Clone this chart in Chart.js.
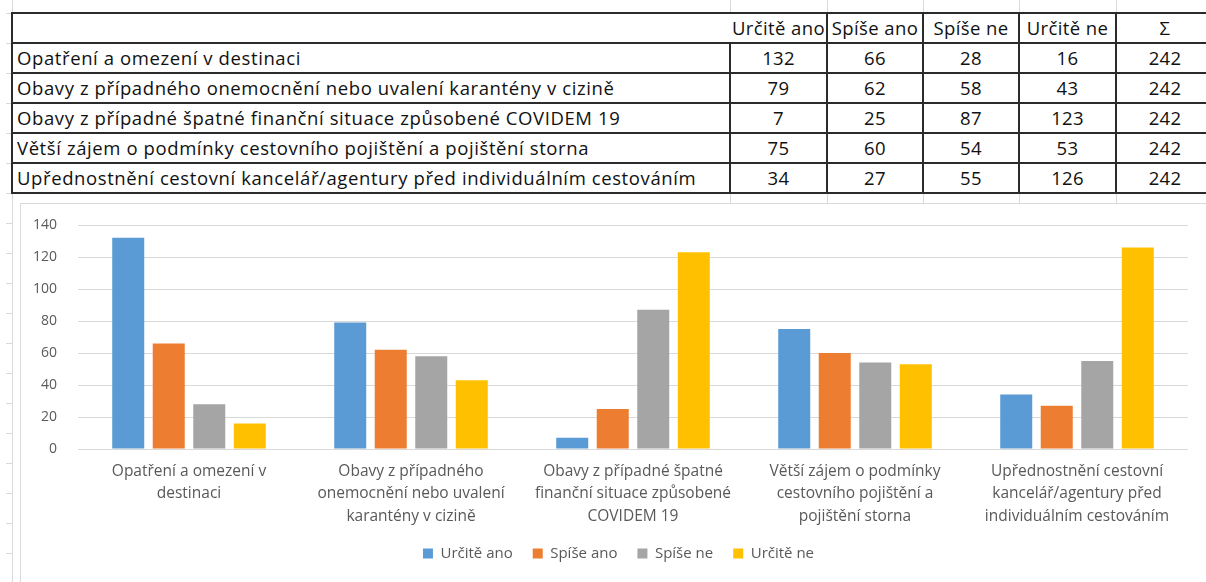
<!DOCTYPE html>
<html>
<head>
<meta charset="utf-8">
<script src="https://cdn.jsdelivr.net/npm/chart.js@4/dist/chart.umd.min.js"></script>
<style>
  html, body { margin:0; padding:0; background:#fff; width:1206px; height:582px; overflow:hidden; position:relative; }
  .gl { position:absolute; background:#d9d9d9; }
  .cell { position:absolute; box-sizing:border-box; font-family:"Open Sans","Lato",sans-serif; font-size:18.5px; letter-spacing:0.6px; color:#111; line-height:30px; white-space:nowrap; }
  .num { letter-spacing:0.3px; }
  .hl { position:absolute; background:#2b2b2b; }
  #chartBox { position:absolute; left:20px; top:203px; width:1196px; height:379px; border-top:1px solid #d9d9d9; border-left:1px solid #d9d9d9; background:#fff; }
</style>
</head>
<body>
<div id="sheet"></div>
<div id="chartBox"><canvas id="c" width="1196" height="378"></canvas></div>
<script>
// ---- data ----
const categories = [
  "Opatření a omezení v destinaci",
  "Obavy z případného onemocnění nebo uvalení karantény v cizině",
  "Obavy z případné špatné finanční situace způsobené COVIDEM 19",
  "Větší zájem o podmínky cestovního pojištění a pojištění storna",
  "Upřednostnění cestovní kancelář/agentury před individuálním cestováním"
];
const categoryLines = [
  ["Opatření a omezení v", "destinaci"],
  ["Obavy z případného", "onemocnění nebo uvalení", "karantény v cizině"],
  ["Obavy z případné špatné", "finanční situace způsobené", "COVIDEM 19"],
  ["Větší zájem o podmínky", "cestovního pojištění a", "pojištění storna"],
  ["Upřednostnění cestovní", "kancelář/agentury před", "individuálním cestováním"]
];
const seriesNames = ["Určitě ano", "Spíše ano", "Spíše ne", "Určitě ne"];
const urciteAno = [132, 79, 7, 75, 34];
const spiseAno  = [66, 62, 25, 60, 27];
const spiseNe   = [28, 58, 87, 54, 55];
const urciteNe  = [16, 43, 123, 53, 126];
const totals    = [242, 242, 242, 242, 242];
const totalHeader = "Σ";
const yTicks = [0, 20, 40, 60, 80, 100, 120, 140];
const colors = ["#5B9BD5", "#ED7D31", "#A5A5A5", "#FFC000"];

// ---- spreadsheet table (layout) ----
const sheet = document.getElementById('sheet');
const colX = [12, 730, 827, 923, 1019, 1116, 1214];
const rowY = [13, 43, 73, 103, 133, 163, 193];
function add(cls, css, text) {
  const d = document.createElement('div');
  d.className = cls;
  Object.assign(d.style, css);
  if (text !== undefined) d.textContent = text;
  sheet.appendChild(d);
  return d;
}
// excel light gridlines
add('gl', {left:'12px', top:'0px', width:'1px', height:'582px'});
for (let y = 13; y < 582; y += 30) add('gl', {left:'6px', top:y+'px', width:'7px', height:'1px'});
for (let i = 1; i < colX.length - 1; i++) {
  add('gl', {left:colX[i]+'px', top:'0px', width:'1px', height:'13px'});
  add('gl', {left:colX[i]+'px', top:'193px', width:'1px', height:'10px'});
}
// header
const header = seriesNames.concat([totalHeader]);
header.forEach((h, i) => {
  add('cell', {left:colX[i+1]+'px', top:rowY[0]+'px', width:(colX[i+2]-colX[i+1])+'px', height:'30px', textAlign:'center', letterSpacing:'0.4px'}, h);
});
const seriesAll = [urciteAno, spiseAno, spiseNe, urciteNe, totals];
categories.forEach((c, r) => {
  add('cell', {left:(colX[0]+5)+'px', top:rowY[r+1]+'px', width:(colX[1]-colX[0]-5)+'px', height:'30px'}, c);
  seriesAll.forEach((s, i) => {
    add('cell num', {left:colX[i+1]+'px', top:rowY[r+1]+'px', width:(colX[i+2]-colX[i+1])+'px', height:'30px', textAlign:'center'}, String(s[r]));
  });
});
// table borders
rowY.forEach(y => add('hl', {left:colX[0]+'px', top:(y-1)+'px', width:(1206-colX[0])+'px', height:'2px'}));
add('hl', {left:(colX[0]-1)+'px', top:(rowY[0]-1)+'px', width:'2px', height:(rowY[6]-rowY[0]+2)+'px'});
add('hl', {left:(colX[1]-1)+'px', top:(rowY[1]-1)+'px', width:'2px', height:(rowY[6]-rowY[1]+2)+'px'});
for (let i = 2; i < colX.length - 1; i++) {
  add('hl', {left:(colX[i]-1)+'px', top:(rowY[0]-1)+'px', width:'2px', height:(rowY[6]-rowY[0]+2)+'px'});
}

// ---- chart ----
const FONT = "'Open Sans','Lato',sans-serif";
const seriesData = [urciteAno, spiseAno, spiseNe, urciteNe];
const legendShift = {
  id: 'legendShift',
  afterLayout(chart) {
    const lg = chart.legend;
    if (lg) { lg.left += 14; lg.right += 14; }
  }
};
new Chart(document.getElementById('c'), {
  type: 'bar',
  data: {
    labels: categoryLines,
    datasets: seriesNames.map((n, i) => ({
      label: n,
      data: seriesData[i],
      backgroundColor: colors[i],
      borderWidth: 0,
      categoryPercentage: 0.73,
      barPercentage: 0.79
    }))
  },
  plugins: [legendShift],
  options: {
    responsive: false,
    animation: false,
    devicePixelRatio: 1,
    layout: { padding: { top: 21, right: 29, bottom: 11, left: 0 } },
    plugins: {
      tooltip: { enabled: false },
      legend: {
        position: 'bottom',
        labels: { boxWidth: 10, boxHeight: 10, padding: 20, color: '#595959', font: { family: FONT, size: 15 } }
      }
    },
    scales: {
      x: {
        grid: { display: false, drawTicks: false },
        border: { display: false },
        ticks: { color: '#595959', font: { family: FONT, size: 15.5, lineHeight: 1.45 }, maxRotation: 0, autoSkip: false, padding: 11 },
        afterFit: s => { s.height = 77; }
      },
      y: {
        min: 0, max: 140,
        afterBuildTicks: s => { s.ticks = yTicks.map(v => ({ value: v })); },
        grid: { color: '#d9d9d9', drawTicks: false, lineWidth: 1 },
        border: { display: false },
        ticks: { color: '#595959', font: { family: FONT, size: 14 }, padding: 21 },
        afterFit: s => { s.width = 57; s.paddingTop = 0; s.paddingBottom = 0; }
      }
    }
  }
});
</script>
</body>
</html>
